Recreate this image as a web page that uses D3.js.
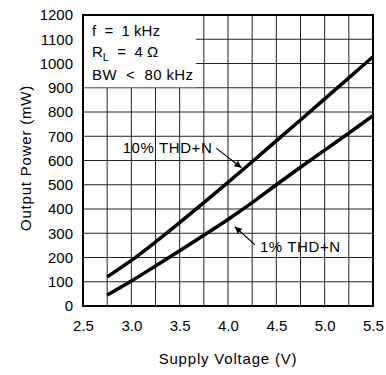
<!DOCTYPE html>
<html>
<head>
<meta charset="utf-8">
<script src="https://cdn.jsdelivr.net/npm/d3@7/dist/d3.min.js"></script>
<style>
  body { margin: 0; background: #fff; }
  text { font-family: "Liberation Sans", Arial, sans-serif; fill: #000; }
  .grid line { stroke: #222; stroke-width: 1px; }
  .curve { fill: none; stroke: #000; stroke-width: 3.5px; }
</style>
</head>
<body>
<div class="chart"></div>
<script>
// supply voltage (V) sample points
let voltage = [2.75, 3.0, 3.25, 3.5, 3.75, 4.0, 4.25, 4.5, 4.75, 5.0, 5.25, 5.5];
// output power (mW)
let thd10 = [120, 188, 264, 344, 426, 510, 595, 681, 767, 854, 941, 1028];
let thd1 = [45, 103, 165, 228, 292, 357, 426, 500, 572, 643, 713, 785];

let xTicks = [2.5, 3.0, 3.5, 4.0, 4.5, 5.0, 5.5];
let yTicks = [0, 100, 200, 300, 400, 500, 600, 700, 800, 900, 1000, 1100, 1200];

// label text, position (V, mW), arrow from -> to (V, mW)
let labels = [
  {text: "10% THD+N", x: 2.91, y: 630, from: [3.88, 650], to: [4.14, 570]},
  {text: "1% THD+N", x: 4.33, y: 224, from: [4.28, 252], to: [4.07, 327]}
];

let margin = {left: 83, right: 13, top: 15, bottom: 69};
let width = 386, height = 375;
let w = width - margin.left - margin.right;
let h = height - margin.top - margin.bottom;

let xScale = d3.scaleLinear().domain([2.5, 5.5]).range([0, w]);
let yScale = d3.scaleLinear().domain([0, 1200]).range([h, 0]);

let svg = d3.select(".chart").append("svg").attr("width", width).attr("height", height);
let g = svg.append("g").attr("transform", "translate(" + margin.left + "," + margin.top + ")");

// grid every 0.25 V and 100 mW
let grid = g.append("g").attr("class", "grid");
grid.selectAll(".vx").data(d3.range(2.75, 5.5, 0.25)).enter().append("line")
    .attr("x1", d => xScale(d)).attr("x2", d => xScale(d))
    .attr("y1", 0).attr("y2", h);
grid.selectAll(".hy").data(yTicks.slice(1, -1)).enter().append("line")
    .attr("x1", 0).attr("x2", w)
    .attr("y1", d => yScale(d)).attr("y2", d => yScale(d));

// white box behind the conditions
g.append("rect").attr("x", 0).attr("y", 0)
    .attr("width", xScale(3.67)).attr("height", yScale(900) - 0.5)
    .attr("fill", "#fff");

// axes (labels only, no ticks)
let xAxis = d3.axisBottom(xScale).tickValues(xTicks).tickFormat(d3.format(".1f")).tickSize(0).tickPadding(14);
let yAxis = d3.axisLeft(yScale).tickValues(yTicks).tickFormat(d3.format("d")).tickSize(0).tickPadding(10);

let gx = g.append("g").attr("transform", "translate(0," + h + ")").call(xAxis);
let gy = g.append("g").call(yAxis);
[gx, gy].forEach(a => {
  a.select(".domain").remove();
  a.selectAll("text").style("font-size", "15px").style("font-family", "Liberation Sans, Arial, sans-serif");
});

// plot border
g.append("rect").attr("width", w).attr("height", h)
    .attr("fill", "none").attr("stroke", "#000").attr("stroke-width", 2);

// curves
let line = d3.line().curve(d3.curveCatmullRom)
    .x(d => xScale(d[0])).y(d => yScale(d[1]));
g.append("path").attr("class", "curve").attr("d", line(voltage.map((v, i) => [v, thd10[i]])));
g.append("path").attr("class", "curve").attr("d", line(voltage.map((v, i) => [v, thd1[i]])));

// arrows
svg.append("defs").append("marker")
    .attr("id", "arr").attr("viewBox", "0 0 10 10").attr("refX", 10).attr("refY", 5)
    .attr("markerWidth", 9).attr("markerHeight", 7).attr("markerUnits", "userSpaceOnUse")
    .attr("orient", "auto")
  .append("path").attr("d", "M0,0L10,5L0,10z").attr("fill", "#000");

labels.forEach(l => {
  g.append("text").attr("x", xScale(l.x)).attr("y", yScale(l.y))
      .style("font-size", "15px").style("letter-spacing", "0.6px")
      .text(l.text);
  g.append("line")
      .attr("x1", xScale(l.from[0])).attr("y1", yScale(l.from[1]))
      .attr("x2", xScale(l.to[0])).attr("y2", yScale(l.to[1]))
      .attr("stroke", "#000").attr("stroke-width", 1.2)
      .attr("marker-end", "url(#arr)");
});

// test conditions (non-breaking spaces keep the wide gaps)
let sp = "\u00A0";
let cond = g.append("g").style("font-size", "15px");
cond.append("text").attr("x", 9).attr("y", 21).text("f" + sp + sp + "=" + sp + sp + "1" + sp + "kHz");
let rl = cond.append("text").attr("x", 9).attr("y", 42);
rl.append("tspan").text("R");
rl.append("tspan").attr("dy", 4).style("font-size", "11px").text("L");
rl.append("tspan").attr("dy", -4).text(sp + sp + "=" + sp + sp + "4" + sp + "\u03A9");
cond.append("text").attr("x", 9).attr("y", 65).style("letter-spacing", "0.4px")
    .text("BW" + sp + sp + "<" + sp + sp + "80" + sp + "kHz");

// axis titles
svg.append("text").attr("x", margin.left + w / 2).attr("y", 364)
    .attr("text-anchor", "middle").style("font-size", "15px").style("letter-spacing", "0.8px")
    .text("Supply Voltage (V)");
svg.append("text").attr("transform", "translate(31,158)rotate(-90)")
    .attr("text-anchor", "middle").style("font-size", "15px").style("letter-spacing", "0.8px")
    .text("Output Power (mW)");
</script>
</body>
</html>
